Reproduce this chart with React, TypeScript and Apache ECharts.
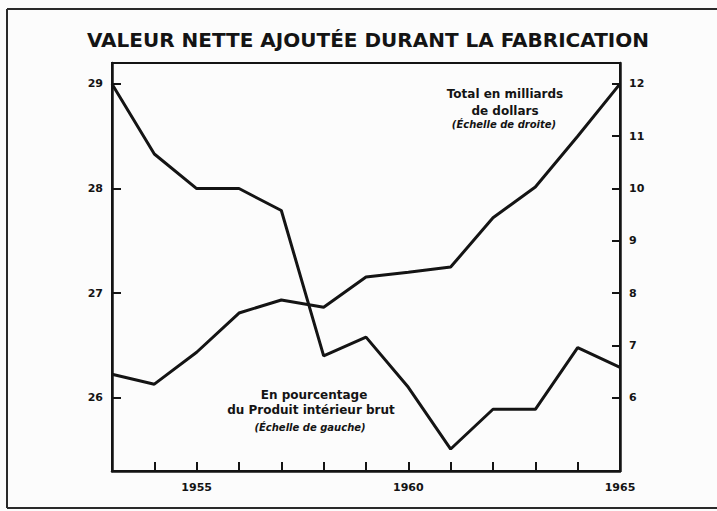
import React, { useEffect, useRef } from "react";
import * as echarts from "echarts";

const years = [1953, 1954, 1955, 1956, 1957, 1958, 1959, 1960, 1961, 1962, 1963, 1964, 1965];
const pctOfGdp = [29.0, 28.33, 28.0, 28.0, 27.79, 26.4, 26.58, 26.1, 25.51, 25.89, 25.89, 26.48, 26.29];
const totalBillions = [6.45, 6.26, 6.87, 7.62, 7.87, 7.73, 8.31, 8.4, 8.5, 9.44, 10.03, 11.0, 12.0];
const leftTicks = [26, 27, 28, 29];
const rightTicks = [6, 7, 8, 9, 10, 11, 12];
const xLabelYears = [1955, 1960, 1965];

const TITLE = "VALEUR NETTE AJOUTÉE DURANT LA FABRICATION";
const totalNote = ["Total en milliards", "de dollars", "(Échelle de droite)"];
const pctNote = ["En pourcentage", "du Produit intérieur brut", "(Échelle de gauche)"];

const INK = "#141414";
const FONT = "DejaVu Sans";

export default function App() {
  const ref = useRef<HTMLDivElement>(null);
  useEffect(() => {
    if (!ref.current) return;
    const chart = echarts.init(ref.current, null, { renderer: "svg" });
    const labelStyle = { color: INK, fontFamily: FONT, fontWeight: "bold" as const, fontSize: 11 };
    const axisLine = { show: true, lineStyle: { color: INK, width: 2.5 } };
    const text = (t: string, x: number, y: number, size: number, italic = false) => ({
      type: "text",
      x,
      y,
      style: {
        text: t,
        fill: INK,
        font: `${italic ? "italic " : ""}bold ${size}px "${FONT}"`,
        textAlign: "center",
        textVerticalAlign: "middle",
      },
    });
    const frameLine = (x1: number, y1: number, x2: number, y2: number) => ({
      type: "line",
      shape: { x1, y1, x2, y2 },
      style: { stroke: "#2a2a2a", lineWidth: 2 },
      silent: true,
    });
    chart.setOption({
      animation: false,
      backgroundColor: "#fcfcfc",
      grid: {
        left: 112,
        right: 97,
        top: 63,
        bottom: 40,
        show: true,
        borderColor: INK,
        borderWidth: 2,
        containLabel: false,
      },
      xAxis: {
        type: "value",
        min: 1953,
        max: 1965,
        interval: 1,
        axisLine,
        axisTick: { show: true, inside: true, length: 9, lineStyle: { color: INK, width: 2 } },
        axisLabel: {
          ...labelStyle,
          margin: 11,
          formatter: (v: number) => (xLabelYears.includes(v) ? String(v) : ""),
        },
        splitLine: { show: false },
      },
      yAxis: [
        {
          type: "value",
          position: "left",
          min: 25.3,
          max: 29.2,
          axisLine,
          axisTick: { show: true, inside: true, length: 9, customValues: leftTicks, lineStyle: { color: INK, width: 2 } },
          axisLabel: { ...labelStyle, margin: 9, customValues: leftTicks, formatter: (v: number) => String(v) },
          splitLine: { show: false },
        },
        {
          type: "value",
          position: "right",
          min: 4.6,
          max: 12.4,
          axisLine,
          axisTick: { show: true, inside: true, length: 8, customValues: rightTicks, lineStyle: { color: INK, width: 2 } },
          axisLabel: { ...labelStyle, margin: 9, customValues: rightTicks, formatter: (v: number) => String(v) },
          splitLine: { show: false },
        },
      ],
      series: [
        {
          type: "line",
          yAxisIndex: 0,
          data: years.map((y, i) => [y, pctOfGdp[i]]),
          symbol: "none",
          lineStyle: { color: INK, width: 3 },
        },
        {
          type: "line",
          yAxisIndex: 1,
          data: years.map((y, i) => [y, totalBillions[i]]),
          symbol: "none",
          lineStyle: { color: INK, width: 3 },
        },
      ],
      graphic: [
        frameLine(7, 9, 717, 9),
        frameLine(7, 9, 7, 508),
        frameLine(7, 508, 717, 508),
        text(TITLE, 368, 40, 20),
        text(totalNote[0], 505, 94, 12),
        text(totalNote[1], 505, 111, 12),
        text(totalNote[2], 504, 124, 10, true),
        text(pctNote[0], 314, 395, 12),
        text(pctNote[1], 311, 410, 12),
        text(pctNote[2], 310, 427, 10, true),
      ],
    });
    return () => chart.dispose();
  }, []);
  return (
    <div
      ref={ref}
      style={{ position: "fixed", left: 0, top: 0, width: 717, height: 511 }}
    />
  );
}
